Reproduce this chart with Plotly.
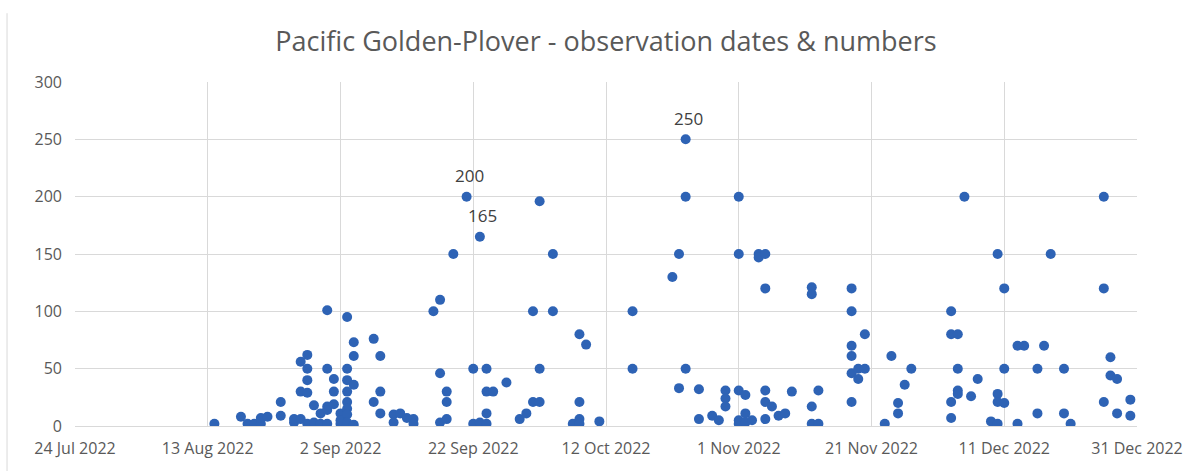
import plotly.graph_objects as go

# ---- data ----
obs_dates = (
    ["2022-08-14", "2022-08-18", "2022-08-19", "2022-08-20", "2022-08-21", "2022-08-21", "2022-08-22",
     "2022-08-24", "2022-08-24", "2022-08-26", "2022-08-26", "2022-08-27", "2022-08-27", "2022-08-27",
     "2022-08-28", "2022-08-28", "2022-08-28", "2022-08-28", "2022-08-28", "2022-08-29", "2022-08-29",
     "2022-08-30", "2022-08-30", "2022-08-31", "2022-08-31", "2022-08-31", "2022-08-31", "2022-08-31",
     "2022-09-01", "2022-09-01", "2022-09-01", "2022-09-02", "2022-09-02", "2022-09-02",
     "2022-09-03", "2022-09-03", "2022-09-03", "2022-09-03", "2022-09-03", "2022-09-03", "2022-09-03", "2022-09-03",
     "2022-09-04", "2022-09-04", "2022-09-04", "2022-09-04", "2022-09-07", "2022-09-07",
     "2022-09-08", "2022-09-08", "2022-09-08", "2022-09-10", "2022-09-10", "2022-09-11", "2022-09-12",
     "2022-09-13", "2022-09-13", "2022-09-16", "2022-09-17", "2022-09-17", "2022-09-17",
     "2022-09-18", "2022-09-18", "2022-09-18", "2022-09-19", "2022-09-21", "2022-09-22", "2022-09-22",
     "2022-09-23", "2022-09-23", "2022-09-24", "2022-09-24", "2022-09-24", "2022-09-24", "2022-09-25",
     "2022-09-27", "2022-09-29", "2022-09-30", "2022-10-01", "2022-10-01", "2022-10-02", "2022-10-02",
     "2022-10-02", "2022-10-04", "2022-10-04", "2022-10-07", "2022-10-08", "2022-10-08", "2022-10-08",
     "2022-10-08", "2022-10-09", "2022-10-11", "2022-10-16", "2022-10-16", "2022-10-22", "2022-10-23",
     "2022-10-23", "2022-10-24", "2022-10-24", "2022-10-24", "2022-10-26", "2022-10-26", "2022-10-28",
     "2022-10-29", "2022-10-30", "2022-10-30", "2022-10-30",
     "2022-11-01", "2022-11-01", "2022-11-01", "2022-11-01", "2022-11-01", "2022-11-02", "2022-11-02",
     "2022-11-02", "2022-11-03", "2022-11-04", "2022-11-04", "2022-11-05", "2022-11-05", "2022-11-05",
     "2022-11-05", "2022-11-05", "2022-11-06", "2022-11-07", "2022-11-08", "2022-11-09",
     "2022-11-12", "2022-11-12", "2022-11-12", "2022-11-12", "2022-11-13", "2022-11-13",
     "2022-11-18", "2022-11-18", "2022-11-18", "2022-11-18", "2022-11-18", "2022-11-18",
     "2022-11-19", "2022-11-19", "2022-11-20", "2022-11-20", "2022-11-23", "2022-11-24", "2022-11-25",
     "2022-11-25", "2022-11-26", "2022-11-27",
     "2022-12-03", "2022-12-03", "2022-12-03", "2022-12-03", "2022-12-04", "2022-12-04", "2022-12-04",
     "2022-12-04", "2022-12-05", "2022-12-06", "2022-12-07", "2022-12-09", "2022-12-10", "2022-12-10",
     "2022-12-10", "2022-12-10", "2022-12-11", "2022-12-11", "2022-12-11", "2022-12-13", "2022-12-13",
     "2022-12-14", "2022-12-16", "2022-12-16", "2022-12-17", "2022-12-18", "2022-12-20", "2022-12-20",
     "2022-12-21", "2022-12-26", "2022-12-26", "2022-12-26", "2022-12-27", "2022-12-27", "2022-12-28",
     "2022-12-28", "2022-12-30", "2022-12-30"]
)
obs_counts = (
    [2, 8, 2, 2, 2, 7, 8,
     21, 9, 3, 6, 6, 56, 30,
     62, 50, 40, 29, 2, 18, 3,
     2, 11, 101, 50, 17, 2, 14,
     41, 30, 19, 11, 2, 5,
     95, 50, 40, 30, 21, 15, 10, 3,
     73, 61, 36, 1, 76, 21,
     61, 30, 11, 10, 3, 11, 7,
     6, 2, 100, 110, 46, 3,
     30, 21, 6, 150, 200, 50, 2,
     165, 3, 50, 30, 11, 2, 30,
     38, 6, 11, 100, 21, 196, 50,
     21, 150, 100, 2, 80, 21, 6,
     2, 71, 4, 100, 50, 130, 150,
     33, 250, 200, 50, 32, 6, 9,
     5, 31, 24, 17,
     200, 150, 31, 5, 2, 27, 11,
     3, 5, 150, 147, 150, 120, 31,
     21, 6, 17, 9, 11, 30,
     121, 115, 17, 2, 31, 2,
     120, 100, 70, 61, 46, 21,
     50, 41, 50, 80, 2, 61, 20,
     11, 36, 50,
     100, 80, 21, 7, 80, 50, 31,
     28, 200, 26, 41, 4, 2, 150,
     28, 21, 120, 50, 20, 70, 2,
     70, 50, 11, 70, 150, 50, 11,
     2, 200, 120, 21, 60, 44, 41,
     11, 23, 9]
)

label_dates = ["2022-09-21", "2022-09-23", "2022-10-24"]
label_values = [200, 165, 250]

x_start = "2022-07-24"
x_end = "2022-12-31"

title_text = "Pacific Golden-Plover - observation dates & numbers"

marker_color = "#2E63B5"
grid_color = "#D9D9D9"
text_color = "#595959"
font_family = "Open Sans, Noto Sans, sans-serif"

fig = go.Figure()
fig.add_trace(go.Scatter(
    x=obs_dates, y=obs_counts, mode="markers",
    marker=dict(color=marker_color, size=10, line=dict(width=0)),
    showlegend=False, hoverinfo="x+y",
))

for d, v in zip(label_dates, label_values):
    fig.add_annotation(x=d, y=v, text=str(v), showarrow=False,
                       yshift=21, xshift=3,
                       font=dict(size=17, color="#404040", family=font_family))

fig.update_layout(
    width=1203, height=471,
    margin=dict(l=75, r=66, t=82, b=45),
    paper_bgcolor="white", plot_bgcolor="white",
    font=dict(family=font_family, color=text_color, size=16),
    title=dict(text=title_text, x=0.5, xanchor="center", xref="paper",
               y=1 - 42 / 471, yanchor="middle", yref="container",
               font=dict(size=27, color=text_color, family=font_family)),
)
fig.update_xaxes(
    type="date", range=[x_start, x_end],
    tick0=x_start, dtick=20 * 86400000, tickformat="%-d %b %Y",
    showgrid=True, gridcolor=grid_color, gridwidth=1,
    showline=True, linecolor=grid_color, linewidth=1, mirror=False,
    zeroline=False, ticks="", ticklabelstandoff=8,
    tickfont=dict(size=16, color=text_color),
)
fig.update_yaxes(
    range=[0, 300], dtick=50, tick0=0,
    showgrid=True, gridcolor=grid_color, gridwidth=1,
    zeroline=False, showline=False, ticks="", ticklabelstandoff=12,
    tickfont=dict(size=16, color=text_color),
)
# chart-area left border, as in the reference
fig.add_shape(type="line", xref="paper", yref="paper",
              x0=-0.064, x1=-0.064, y0=-0.15, y1=1.2,
              line=dict(color=grid_color, width=1))

fig.write_html("out.html", config={"displayModeBar": False},
               post_script="document.body.style.margin='0';")
